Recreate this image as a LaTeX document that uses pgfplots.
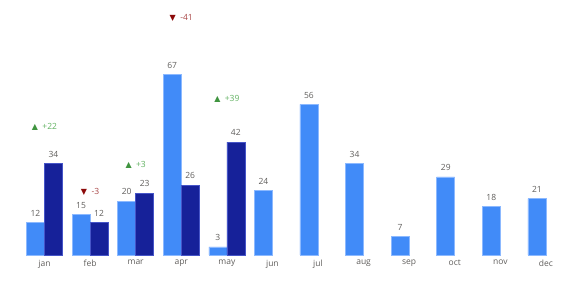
\documentclass[border=0pt]{standalone}
\usepackage{fontspec}
\setmainfont{Open Sans}
\newfontfamily\symfont{DejaVu Sans}
\usepackage{pgfplots}
\pgfplotsset{compat=1.18}
\definecolor{lightbar}{RGB}{65,139,248}
\definecolor{lightedge}{RGB}{140,185,255}
\definecolor{darkbar}{RGB}{22,33,153}
\definecolor{darkedge}{RGB}{70,85,200}
\definecolor{labgray}{RGB}{96,94,92}
\definecolor{upgreen}{RGB}{70,165,70}
\definecolor{downred}{RGB}{140,10,10}
\begin{document}
\begin{tikzpicture}
\path[use as bounding box] (-21.7pt,-28pt) rectangle (558.3pt,255pt);
\begin{axis}[
  at={(0,0)}, anchor=south west,
  scale only axis, width=547pt, height=255pt,
  xmin=-0.5, xmax=11.5, ymin=0, ymax=94.8,
  axis line style={draw=none},
  tick style={draw=none},
  xtick={0,...,11},
  xticklabels={jan,feb,mar,apr,may,jun,jul,aug,sep,oct,nov,dec},
  xticklabel style={font=\fontsize{8.5}{10}\selectfont, text=labgray, yshift=-1.5pt},
  ytick=\empty,
  clip=false,
  /pgf/number format/assume math mode=true,
  nodes near coords style={font=\fontsize{8.5}{10}\selectfont, text=labgray},
]
\addplot[ybar, bar width=0.395, bar shift=-0.1975, fill=lightbar, draw=lightedge, line width=0.6pt,
  nodes near coords, nodes near coords style={anchor=south, yshift=2.5pt, xshift=-9pt}]
  coordinates {(0,12) (1,15) (2,20) (3,67) (4,3) (5,24) (6,56) (7,34) (8,7) (9,29) (10,18) (11,21)};
\addplot[ybar, bar width=0.395, bar shift=0.1975, fill=darkbar, draw=darkedge, line width=0.6pt,
  nodes near coords, nodes near coords style={anchor=south, yshift=2.5pt, xshift=9pt}]
  coordinates {(0,34) (1,12) (2,23) (3,26) (4,42)};
\addplot[draw=none, mark=none, nodes near coords, point meta=explicit symbolic,
  nodes near coords style={anchor=center, text=upgreen!85!white, font=\fontsize{8.5}{10}\selectfont}]
  table[meta=label] {
x y label
0 47.6 {{\symfont\fontsize{8}{8}\selectfont\color{upgreen!90!black}▲}\ \ +22}
2 33.4 {{\symfont\fontsize{8}{8}\selectfont\color{upgreen!90!black}▲}\ \ +3}
4 58.0 {{\symfont\fontsize{8}{8}\selectfont\color{upgreen!90!black}▲}\ \ +39}
};
\addplot[draw=none, mark=none, nodes near coords, point meta=explicit symbolic,
  nodes near coords style={anchor=center, text=downred!75!white, font=\fontsize{8.5}{10}\selectfont}]
  table[meta=label] {
x y label
1 23.4 {{\symfont\fontsize{8}{8}\selectfont\color{downred}▼}\ \ -3}
3 88.0 {{\symfont\fontsize{8}{8}\selectfont\color{downred}▼}\ \ -41}
};
\end{axis}
\end{tikzpicture}
\end{document}
